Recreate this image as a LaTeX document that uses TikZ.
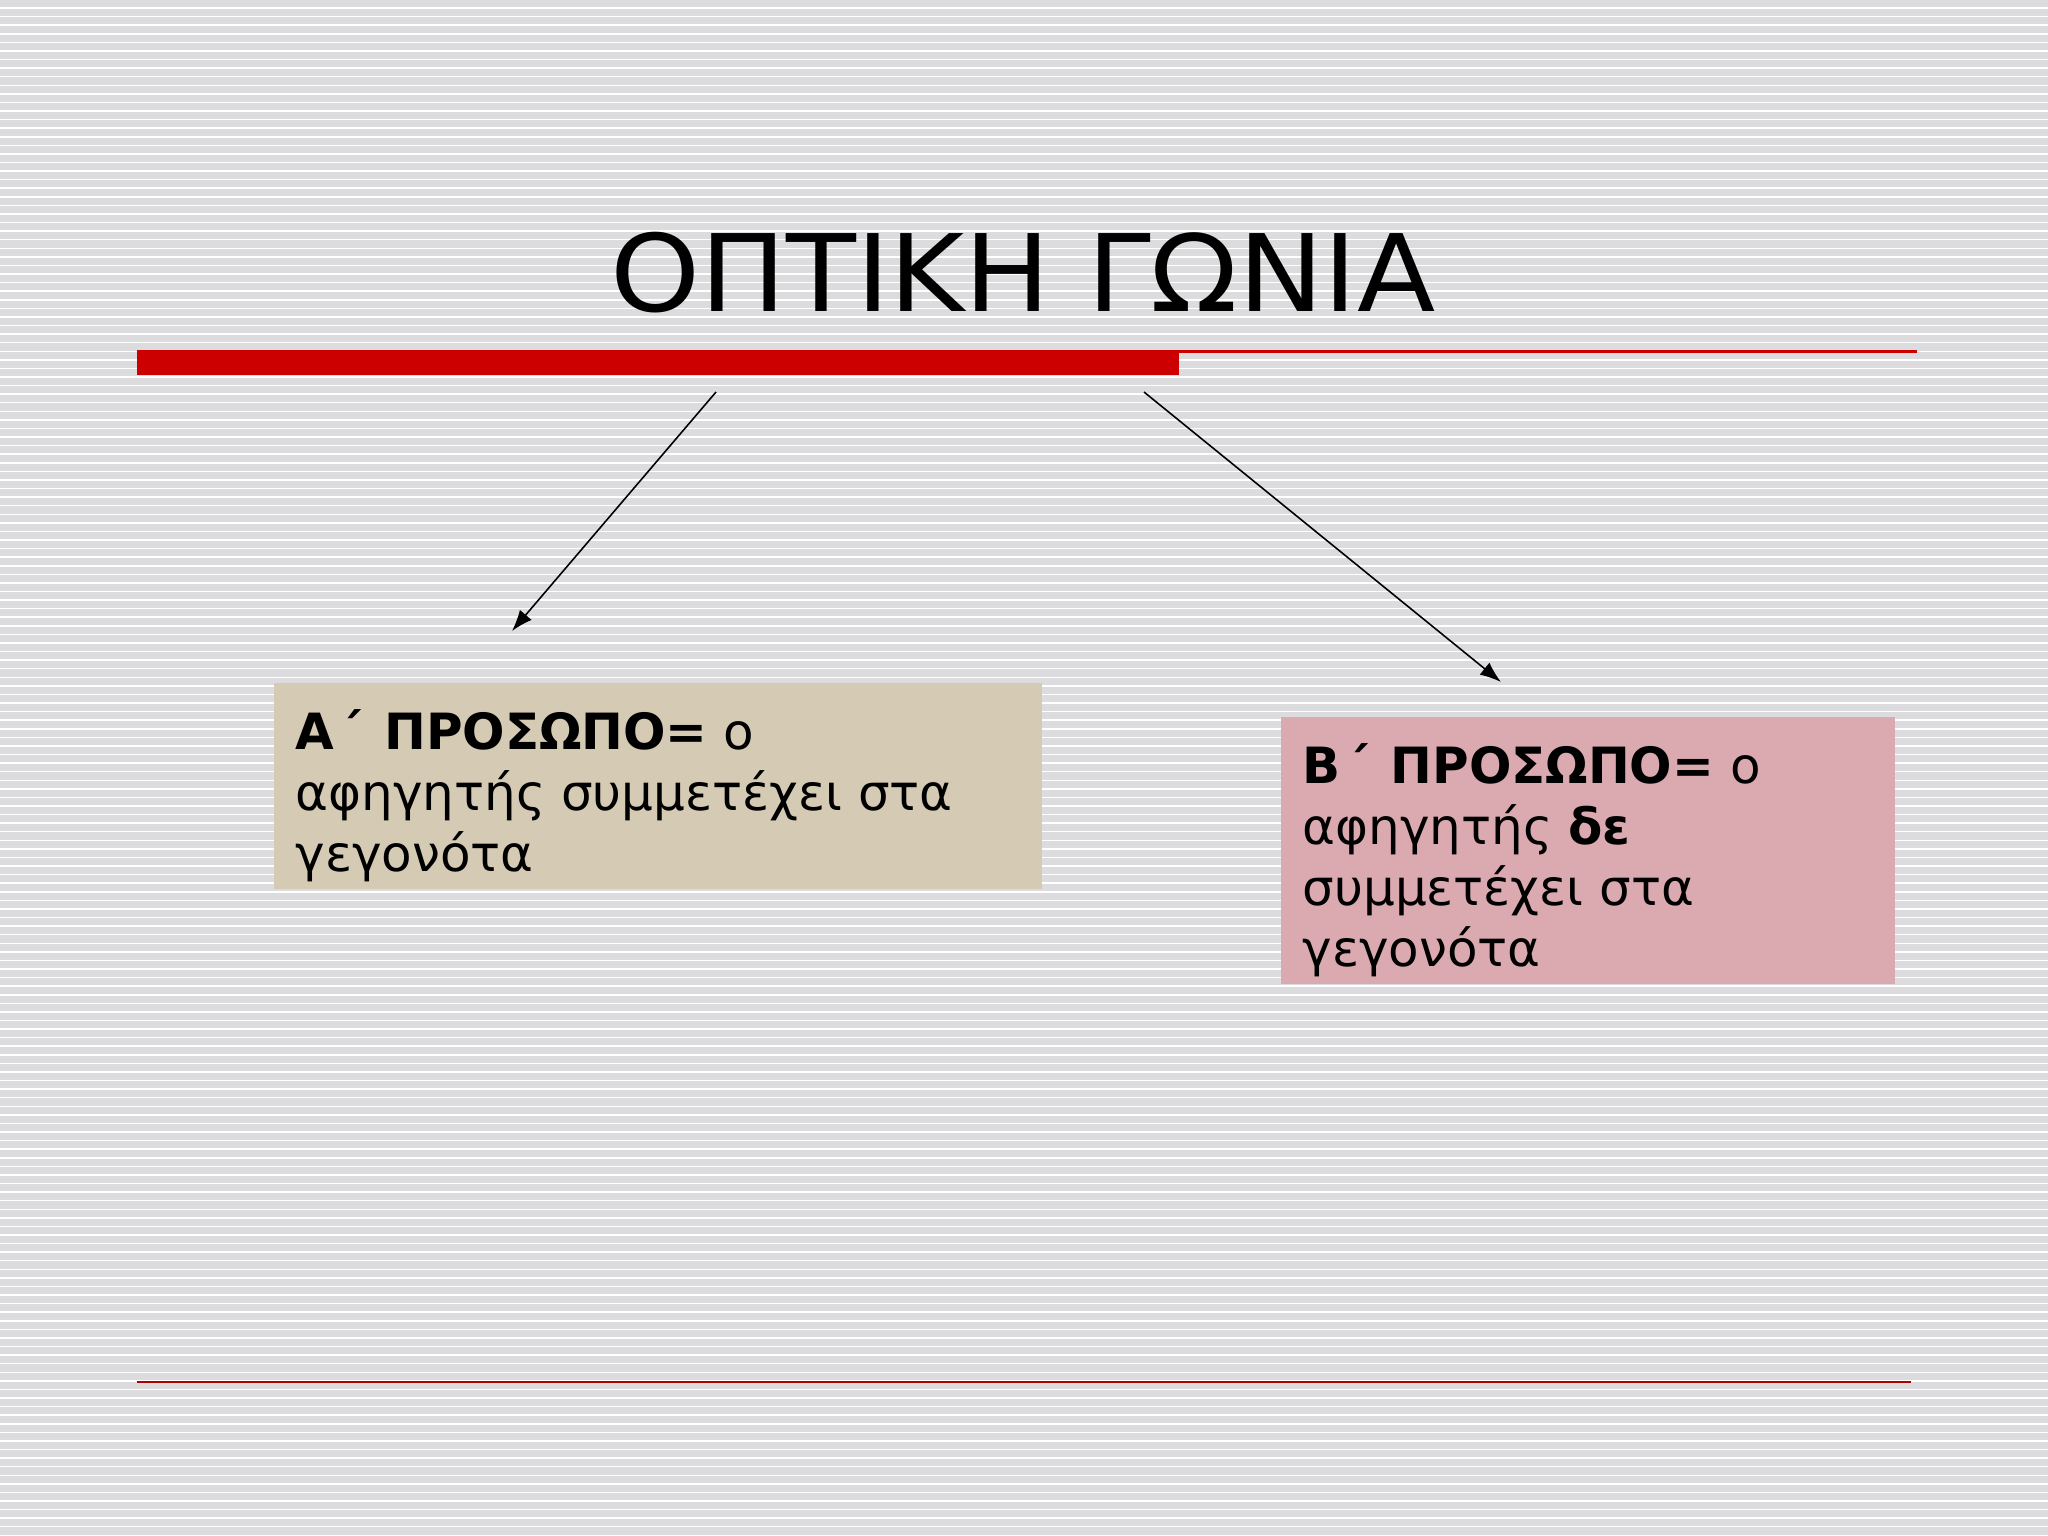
\documentclass[tikz,border=0pt]{standalone}
\usepackage{fontspec}
\setmainfont{DejaVu Sans}
\newfontfamily\headfont[FakeStretch=1.07]{DejaVu Sans}
\usetikzlibrary{arrows.meta}
\definecolor{slidegray}{RGB}{220,220,222}
\definecolor{slidered}{RGB}{204,0,0}
\definecolor{boxsand}{RGB}{213,202,180}
\definecolor{boxrose}{RGB}{218,170,176}

\begin{document}
\begin{tikzpicture}
			[x=0.01cm, y=-0.01cm,
			 card/.style = {anchor=north west, inner xsep=6.26pt, inner ysep=7.68pt, font=\fontsize{14.2}{17.3}\selectfont},
			 pointer/.style = {-{Latex[length=6pt,width=4.4pt]}, line width=0.45pt}]
			\useasboundingbox (0,0) rectangle (2048,1536);
			% striped slide background
			\fill[slidegray] (0,0) rectangle (2048,1536);
			\foreach \k in {0,...,178}
				\fill[white] (0,{7.3+8.58*\k}) rectangle (2048,{8.8+8.58*\k});
			\node[anchor=base, font=\headfont\fontsize{30.4}{36}\selectfont] (title) at (1023,311) {ΟΠΤΙΚΗ ΓΩΝΙΑ};
			\fill[slidered] (137,350) rectangle (1179,375);
			\fill[slidered] (1179,350) rectangle (1917,352.5);
			\fill[slidered!85!black] (137,1381) rectangle (1911,1383);
			\node[card, fill=boxsand] (first) at (273,682)
				{\parbox[c][43.25pt][t]{206pt}{\textbf{Α\kern1.5pt΄\kern1.5pt{} ΠΡΟΣΩΠΟ=} ο\\ αφηγητής συμμετέχει στα\\ γεγονότα}};
			\node[card, fill=boxrose] (second) at (1280,716)
				{\parbox[c][60.6pt][t]{162.2pt}{\textbf{Β\kern1.5pt΄\kern1.5pt{} ΠΡΟΣΩΠΟ=} ο\\ αφηγητής \textbf{δε}\\ συμμετέχει στα\\ γεγονότα}};
			\coordinate (fromA) at (716,392);
			\coordinate (toA) at (512,631);
			\coordinate (fromB) at (1144,392);
			\coordinate (toB) at (1501,682);
            \draw[pointer] (fromA) -- (toA) ;
            \draw[pointer] (fromB) -- (toB) ;
		\end{tikzpicture}
\end{document}
